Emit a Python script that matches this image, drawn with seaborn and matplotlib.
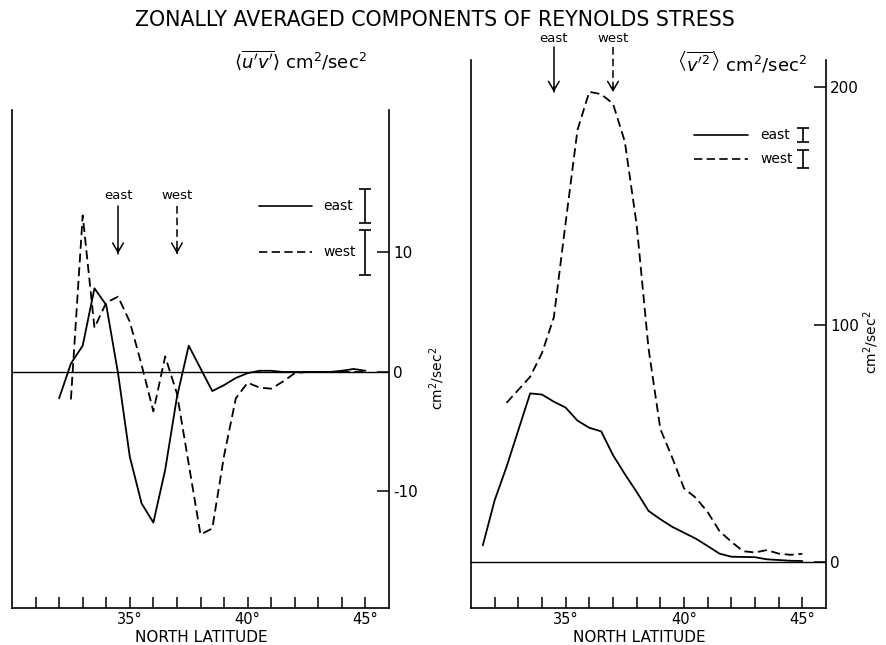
import matplotlib
matplotlib.use("Agg")
import matplotlib.pyplot as plt
import seaborn as sns

# ---- <u'v'> (left panel), cm^2/sec^2 ----
lat_uv_east = [32.0, 32.5, 33.0, 33.5, 34.0, 34.5, 35.0, 35.5, 36.0, 36.5, 37.0,
               37.5, 38.0, 38.5, 39.0, 39.5, 40.0, 40.5, 41.0, 41.5, 42.0, 42.5,
               43.0, 43.5, 44.0, 44.5, 45.0]
uv_east = [-2.2, 0.7, 2.2, 7.0, 5.6, -0.1, -7.1, -11.0, -12.6, -8.2, -2.1,
           2.2, 0.3, -1.6, -1.1, -0.5, -0.1, 0.1, 0.1, 0.0, 0.0, 0.0,
           0.0, 0.0, 0.1, 0.25, 0.1]

lat_uv_west = [32.5, 33.0, 33.5, 34.0, 34.5, 35.0, 35.5, 36.0, 36.5, 37.0, 37.5,
               38.0, 38.5, 39.0, 39.5, 40.0, 40.5, 41.0, 41.5, 42.0, 42.5, 43.0,
               43.5, 44.0, 44.5, 45.0]
uv_west = [-2.3, 13.1, 3.7, 5.8, 6.3, 4.2, 0.6, -3.3, 1.3, -1.8, -7.7,
           -13.6, -13.1, -7.0, -2.2, -0.9, -1.3, -1.4, -0.8, -0.1, 0.0, 0.0,
           0.0, 0.0, 0.0, 0.0]

# ---- <v'^2> (right panel), cm^2/sec^2 ----
lat_vv_east = [31.5, 32.0, 32.5, 33.0, 33.5, 34.0, 34.5, 35.0, 35.5, 36.0, 36.5,
               37.0, 37.5, 38.0, 38.5, 39.0, 39.5, 40.0, 40.5, 41.0, 41.5, 42.0,
               42.5, 43.0, 43.5, 44.0, 44.5, 45.0]
vv_east = [7, 26, 40, 55.5, 71, 70.5, 67.5, 65, 59.5, 56.5, 55,
           45, 37, 29.5, 21.5, 18, 14.8, 12.3, 9.8, 6.7, 3.5, 2.2,
           2.1, 2.0, 1.1, 0.8, 0.5, 0.4]

lat_vv_west = [32.5, 33.0, 33.5, 34.0, 34.5, 35.0, 35.5, 36.0, 36.5, 37.0, 37.5,
               38.0, 38.5, 39.0, 39.5, 40.0, 40.5, 41.0, 41.5, 42.0, 42.5, 43.0,
               43.5, 44.0, 44.5, 45.0]
vv_west = [67, 72.5, 78, 88, 103, 143, 182, 198, 197, 193, 177,
           142, 90, 56, 44, 31, 27, 21, 13, 8.5, 4.5, 4.0,
           5.0, 3.5, 3.0, 3.4]

# Series names, jet-axis latitudes and error-bar half lengths
series = ["east", "west"]
axis_lat = [34.5, 37.0]
uv_err = [1.4, 1.9]
vv_err = [3.0, 3.8]

uv_ticks = [-10, 0, 10]
vv_ticks = [0, 100, 200]
uv_lat_ticks = list(range(31, 46))
vv_lat_ticks = list(range(32, 46))

TITLE = "ZONALLY AVERAGED COMPONENTS OF REYNOLDS STRESS"
UV_HEAD = r"$\left\langle\overline{u'v'}\right\rangle$ cm$^2$/sec$^2$"
VV_HEAD = r"$\left\langle\overline{v'^2}\right\rangle$ cm$^2$/sec$^2$"
UNITS = r"cm$^2$/sec$^2$"
XLABEL = "NORTH LATITUDE"

sns.set_theme(style="white")
plt.rcParams["font.family"] = ["DejaVu Sans"]
plt.rcParams["mathtext.fontset"] = "dejavusans"

LINE_W = 1.3
DASH = (0, (5, 2.6))
styles = {"east": "-", "west": DASH}

fig = plt.figure(figsize=(8.86, 6.45), dpi=100)
ax1 = fig.add_axes([12 / 886, 37 / 645, 377 / 886, 498 / 645])
ax2 = fig.add_axes([471 / 886, 37 / 645, 355 / 886, 548 / 645])


def style_axes(ax, xlim, ylim, lat_ticks, yticks):
    ax.set_xlim(*xlim)
    ax.set_ylim(*ylim)
    ax.spines["top"].set_visible(False)
    for s in ("left", "right", "bottom"):
        ax.spines[s].set_visible(True)
        ax.spines[s].set_color("black")
        ax.spines[s].set_linewidth(1.2)
    ax.axhline(0, color="black", lw=1.0, zorder=1)
    ax.set_xticks(lat_ticks,
                  labels=[f"{t}°" if t % 5 == 0 else "" for t in lat_ticks])
    ax.set_yticks(yticks, labels=[str(t) for t in yticks])
    ax.yaxis.tick_right()
    ax.tick_params(axis="x", direction="in", length=8, width=1.1, pad=3,
                   labelsize=10.5, colors="black", bottom=True, top=False)
    ax.tick_params(axis="y", direction="in", length=8.5, width=1.1, pad=3,
                   labelsize=11, colors="black", left=False, right=True,
                   labelleft=False, labelright=True)
    ax.set_xlabel(XLABEL, fontsize=11, color="black")
    ax.set_ylabel(UNITS, fontsize=10, color="black", rotation=90)
    ax.yaxis.set_label_position("right")
    ax.grid(False)
    ax.set_facecolor("white")


def jet_arrow(ax, x, y_top, y_head, y_text, label, ls):
    ax.plot([x, x], [y_top, y_head], color="black", lw=1.1, ls=ls,
            clip_on=False)
    ax.annotate("", xy=(x, y_head), xytext=(x, y_head + 0.12 * (y_top - y_head)),
                arrowprops=dict(arrowstyle="->,head_length=0.55,head_width=0.32",
                                color="black", lw=1.1, shrinkA=0, shrinkB=0),
                annotation_clip=False)
    ax.text(x, y_text, label, ha="center", va="center", fontsize=9.5,
            color="black", clip_on=False)


def key_rows(ax, x0, x1, xtext, xerr, rows, errs):
    for name, y, e in zip(series, rows, errs):
        ax.plot([x0, x1], [y, y], color="black", lw=1.2, ls=styles[name])
        ax.text(xtext, y, name, ha="left", va="center", fontsize=10,
                color="black")
        ax.errorbar([xerr], [y], yerr=[e], color="black", lw=1.2,
                    capsize=4.5, capthick=1.2, fmt="none")


# ---- left panel ----
style_axes(ax1, (30, 46), (-19.75, 21.92), uv_lat_ticks, uv_ticks)
sns.lineplot(x=lat_uv_east, y=uv_east, ax=ax1, color="black", lw=LINE_W,
             linestyle=styles["east"])
sns.lineplot(x=lat_uv_west, y=uv_west, ax=ax1, color="black", lw=LINE_W,
             linestyle=styles["west"])
for name, x in zip(series, axis_lat):
    jet_arrow(ax1, x, 13.9, 9.9, 14.8, name, styles[name])
key_rows(ax1, 40.47, 42.75, 43.2, 45.0, [13.9, 10.0], uv_err)
ax1.xaxis.set_label_coords(0.501, -0.06)
ax1.xaxis.label.set_va("center")
ax1.yaxis.set_label_coords(1.127, 0.462)
ax1.yaxis.label.set_va("center")

# ---- right panel ----
style_axes(ax2, (31, 46), (-19.4, 211.4), vv_lat_ticks, vv_ticks)
sns.lineplot(x=lat_vv_east, y=vv_east, ax=ax2, color="black", lw=LINE_W,
             linestyle=styles["east"])
sns.lineplot(x=lat_vv_west, y=vv_west, ax=ax2, color="black", lw=LINE_W,
             linestyle=styles["west"])
for name, x in zip(series, axis_lat):
    jet_arrow(ax2, x, 216.8, 197.9, 220.6, name, styles[name])
key_rows(ax2, 40.44, 42.72, 43.21, 45.03, [179.8, 169.7], vv_err)
ax2.xaxis.set_label_coords(0.473, -0.0545)
ax2.xaxis.label.set_va("center")
ax2.yaxis.set_label_coords(1.128, 0.485)
ax2.yaxis.label.set_va("center")

# ---- headings ----
fig.text(0.491, 0.969, TITLE, ha="center", va="center", fontsize=14.8,
         color="black")
fig.text(300 / 886, 1 - 60 / 645, UV_HEAD, ha="center", va="center",
         fontsize=13, color="black")
fig.text(742 / 886, 1 - 63 / 645, VV_HEAD, ha="center", va="center",
         fontsize=13, color="black")

fig.savefig("out.png", dpi=100, facecolor="white")
